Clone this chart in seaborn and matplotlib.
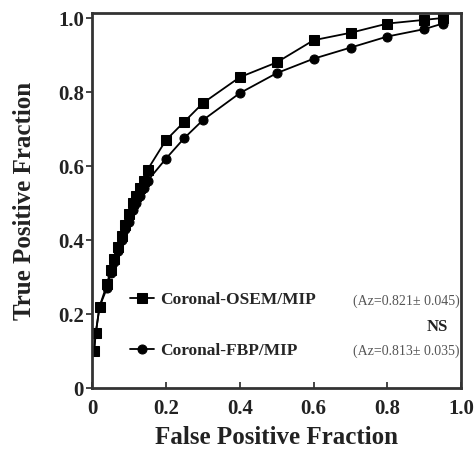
import pandas as pd
import matplotlib
matplotlib.use("Agg")
import matplotlib.pyplot as plt
import seaborn as sns

# ROC operating points
fpf_osem = [0.005, 0.01, 0.02, 0.04, 0.05, 0.06, 0.07, 0.08, 0.09, 0.10, 0.11, 0.12,
            0.13, 0.14, 0.15, 0.20, 0.25, 0.30, 0.40, 0.50, 0.60, 0.70, 0.80, 0.90, 0.95]
tpf_osem = [0.10, 0.15, 0.22, 0.28, 0.32, 0.35, 0.38, 0.41, 0.44, 0.47, 0.50, 0.52,
            0.54, 0.56, 0.59, 0.67, 0.72, 0.77, 0.84, 0.88, 0.94, 0.96, 0.985, 0.995, 1.0]

fpf_fbp = [0.005, 0.01, 0.02, 0.04, 0.05, 0.06, 0.07, 0.08, 0.09, 0.10, 0.11, 0.12,
           0.13, 0.14, 0.15, 0.20, 0.25, 0.30, 0.40, 0.50, 0.60, 0.70, 0.80, 0.90, 0.95]
tpf_fbp = [0.10, 0.15, 0.22, 0.27, 0.31, 0.34, 0.37, 0.40, 0.43, 0.45, 0.48, 0.50,
           0.52, 0.54, 0.56, 0.62, 0.676, 0.724, 0.797, 0.851, 0.89, 0.92, 0.95, 0.97, 0.985]

labels = ["Coronal-OSEM/MIP", "Coronal-FBP/MIP"]
az_text = ["(Az=0.821\u00b1 0.045)", "(Az=0.813\u00b1 0.035)"]
ticks = [0, 0.2, 0.4, 0.6, 0.8, 1.0]
tick_labels = ["0", "0.2", "0.4", "0.6", "0.8", "1.0"]

sns.set_style("ticks")
plt.rcParams['font.family'] = ['Liberation Serif', 'DejaVu Serif']

fig = plt.figure(figsize=(4.75, 4.55), dpi=100)
ax = fig.add_axes([0.194, 0.147, 0.777, 0.824])

df1 = pd.DataFrame({'FPF': fpf_osem, 'TPF': tpf_osem})
df2 = pd.DataFrame({'FPF': fpf_fbp, 'TPF': tpf_fbp})
sns.lineplot(data=df1, x='FPF', y='TPF', ax=ax, color='black', marker='s',
             markersize=6.5, linewidth=1.3, markeredgecolor='black', label=labels[0])
sns.lineplot(data=df2, x='FPF', y='TPF', ax=ax, color='black', marker='o',
             markersize=6.5, linewidth=1.3, markeredgecolor='black', label=labels[1])

ax.set_xlim(0, 1.0)
ax.set_ylim(0, 1.013)
ax.set_xticks(ticks)
ax.set_xticklabels(tick_labels, fontsize=15, fontweight='bold', color='#222222')
ax.set_yticks(ticks)
ax.set_yticklabels(tick_labels, fontsize=15, fontweight='bold', color='#222222')
ax.tick_params(axis='x', direction='in', length=4, width=1.2, pad=8)
ax.tick_params(axis='y', direction='out', length=4, width=1.2, pad=2)

for sp in ax.spines.values():
    sp.set_visible(True)
    sp.set_linewidth(2)
    sp.set_color('#333333')

ax.set_xlabel('False Positive Fraction', fontsize=18, fontweight='bold',
              color='#222222', labelpad=5)
ax.set_ylabel('True Positive Fraction', fontsize=18, fontweight='bold',
              color='#222222', labelpad=16)

leg = ax.legend(loc='lower left', bbox_to_anchor=(0.06, 0.035), frameon=False,
                prop={'family': 'Liberation Serif', 'weight': 'bold', 'size': 12.5},
                labelspacing=2.0, handlelength=1.4, handletextpad=0.35)

ax.text(0.995, 0.233, az_text[0], transform=ax.transAxes, ha='right', va='center',
        fontsize=10, color='#555555')
ax.text(0.995, 0.097, az_text[1], transform=ax.transAxes, ha='right', va='center',
        fontsize=10, color='#555555')
ax.text(0.935, 0.163, 'NS', transform=ax.transAxes, ha='center', va='center',
        fontsize=12, fontweight='bold', color='#222222')

plt.savefig('out.png', dpi=100)
